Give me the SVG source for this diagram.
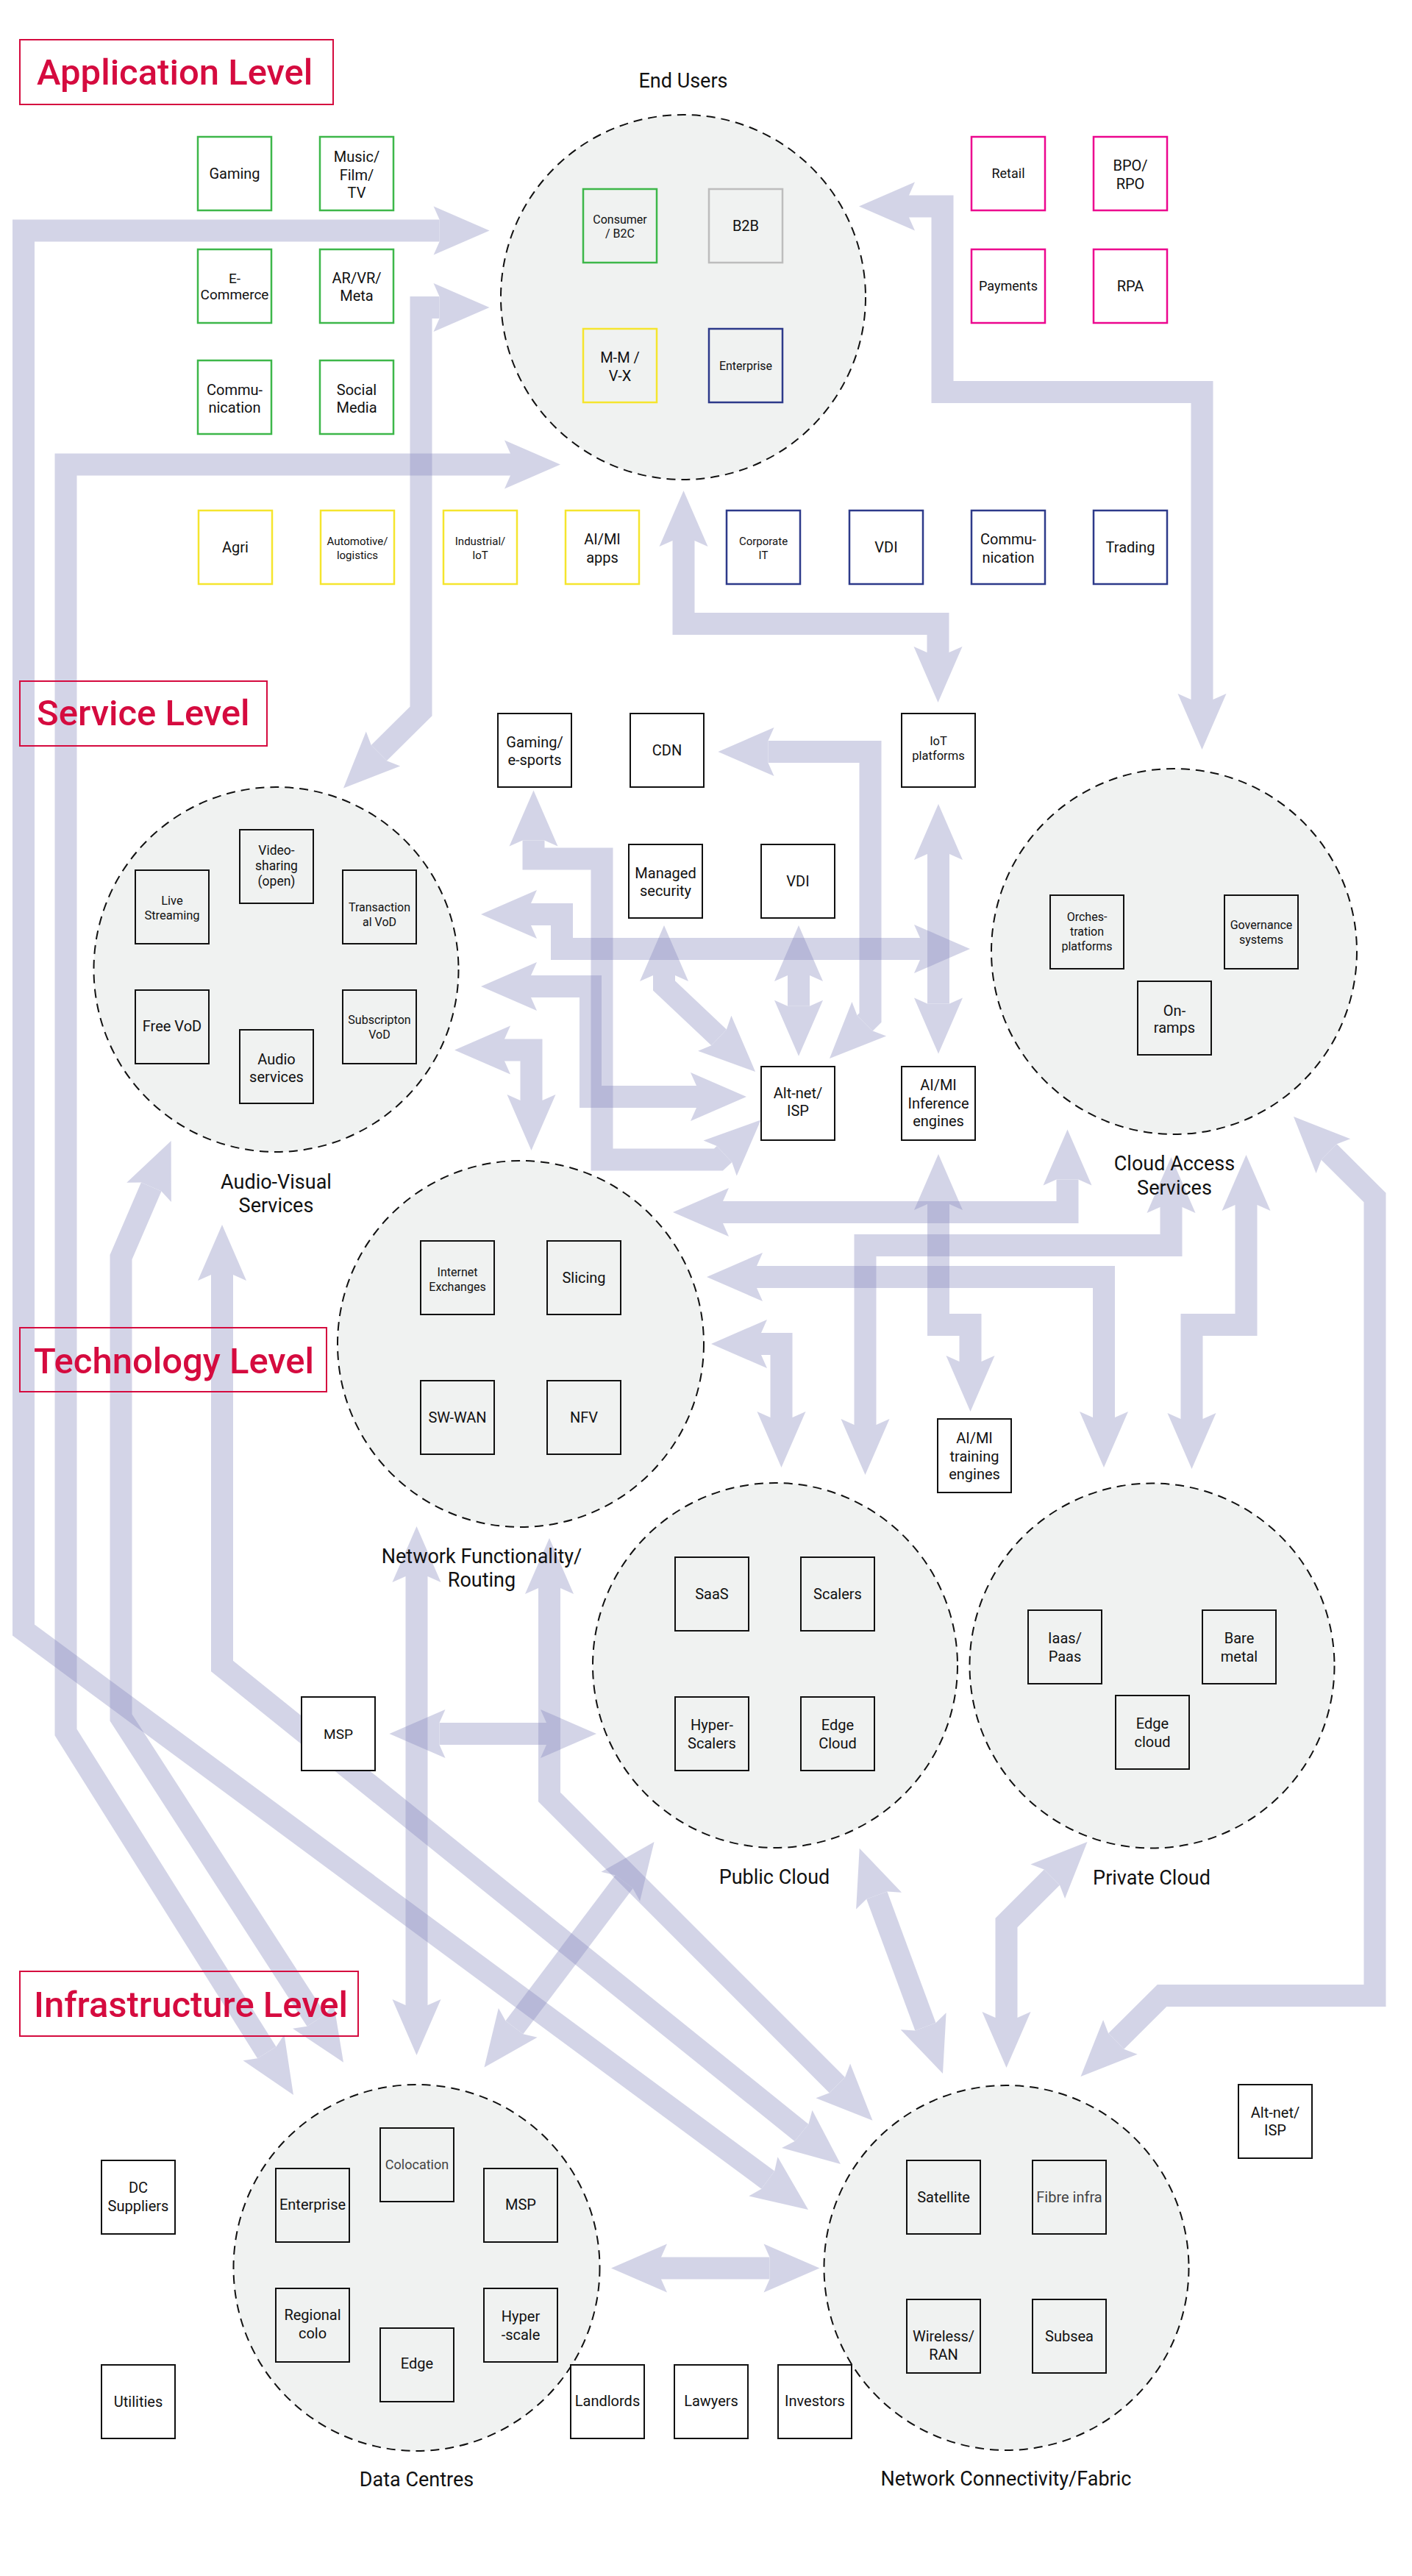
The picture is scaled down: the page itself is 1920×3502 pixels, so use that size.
<svg xmlns="http://www.w3.org/2000/svg" width="1920" height="3502" viewBox="0 0 1920 3502">
<style>
text{font-family:Roboto,"Liberation Sans",sans-serif;fill:#111;text-anchor:middle}
.lvl rect{fill:none;stroke:#D50B3F;stroke-width:2}
.lvl text{fill:#D50B3F;font-size:49px;font-weight:500;text-anchor:start}
.cir{fill:#F0F2F1;stroke:#111;stroke-width:2;stroke-dasharray:12 8}
.b{fill:#fff;stroke:#111;stroke-width:2}
.bi{fill:#F0F2F1;stroke:#111;stroke-width:2}
.g{fill:#fff;stroke:#3DB74A;stroke-width:2.5}
.gi{fill:#F0F2F1;stroke:#3DB74A;stroke-width:2.5}
.y{fill:#fff;stroke:#F5E52E;stroke-width:2.5}
.yi{fill:#F0F2F1;stroke:#F5E52E;stroke-width:2.5}
.n{fill:#fff;stroke:#2D3A8A;stroke-width:2.5}
.ni{fill:#F0F2F1;stroke:#2D3A8A;stroke-width:2.5}
.p{fill:#fff;stroke:#EC058E;stroke-width:2.5}
.gr{fill:#F0F2F1;stroke:#BDBDBD;stroke-width:2.5}
.f20{font-size:20px}
.f18{font-size:18px}
.f16{font-size:16px}
.f15{font-size:15px}
.lab{font-size:27px}
.cn g{opacity:.35}
.cn polyline{fill:none;stroke:#8487BD;stroke-width:30;stroke-linejoin:miter;marker-start:url(#ah);marker-end:url(#ah)}
</style>
<defs>
<marker id="ah" markerUnits="userSpaceOnUse" markerWidth="80" markerHeight="70" refX="8" refY="0" orient="auto-start-reverse" overflow="visible"><path d="M0,-33 L76,0 L0,33 L8,15 L8,-15 Z" fill="#8487BD"/></marker>
</defs>
<rect width="1920" height="3502" fill="#fff"/>

<g id="connectors" class="cn">
<g id="c-e1"><polyline points="597.6,313.5 32,313.5 32,2216 1044.3,2963.6"/></g>
<g id="c-e2"><polyline points="597.5,418 572.5,418 572.5,967 515.3,1023.6"/></g>
<g id="c-e3"><polyline points="694,631.5 89.5,631.5 89.5,2355 362.8,2790.4"/></g>
<g id="c-e4"><polyline points="1236,280.5 1281.5,280.5 1281.5,533 1634.5,533 1634.5,951"/></g>
<g id="c-e5"><polyline points="929.5,735 929.5,848 1275.5,848 1275.5,887"/></g>
<g id="c-b"><polyline points="205.7,1613.5 164.5,1709 164.5,2335 430.1,2746.5"/></g>
<g id="c-d"><polyline points="302,1733 302,2265 1090,2899.4"/></g>
<g id="c-s1"><polyline points="1044.5,1022 1183.5,1022 1183.5,1383.5 1176.1,1390.9"/></g>
<g id="c-s2"><polyline points="1276,1161 1276,1364.6"/></g>
<g id="c-s3"><polyline points="1086,1326 1086,1367.7"/></g>
<g id="c-s4"><polyline points="903,1326 903,1340 977.6,1410.3"/></g>
<g id="c-p1"><polyline points="725.5,1142.5 725.5,1167.5 818.5,1167.5 818.5,1576.5 977,1576.5 985,1569"/></g>
<g id="c-p2"><polyline points="722,1243 764,1243 764,1290 1251,1290"/></g>
<g id="c-p3"><polyline points="722,1341 803,1341 803,1491 947,1491"/></g>
<g id="c-p4"><polyline points="686,1427.5 722.5,1427.5 722.5,1496"/></g>
<g id="c-q1"><polyline points="983,1648 1451.5,1648 1451.5,1603.5"/></g>
<g id="c-q2"><polyline points="1592.5,1641 1592.5,1693 1176.5,1693 1176.5,1937"/></g>
<g id="c-q3"><polyline points="1694.5,1638 1694.5,1801 1620.5,1801 1620.5,1929"/></g>
<g id="c-q4"><polyline points="1807.2,1566 1869.5,1628 1869.5,2713 1580,2713 1517.7,2775"/></g>
<g id="c-q5"><polyline points="1029,1736 1501,1736 1501,1927"/></g>
<g id="c-q6"><polyline points="1035,1827 1062.5,1827 1062.5,1927"/></g>
<g id="c-q7"><polyline points="1276,1637 1276,1801 1319.5,1801 1319.5,1851"/></g>
<g id="c-r1"><polyline points="566.5,2143 566.5,2726"/></g>
<g id="c-r2"><polyline points="747,2159 747,2443 1138.4,2834.6"/></g>
<g id="c-r3"><polyline points="597.5,2357 743,2357"/></g>
<g id="c-r4"><polyline points="848.6,2558.3 699.4,2756.3"/></g>
<g id="c-r5"><polyline points="1192.3,2576.6 1258.4,2755.2"/></g>
<g id="c-r6"><polyline points="1430.4,2552.1 1368.5,2614 1368.5,2743"/></g>
<g id="c-r7"><polyline points="899,3083.5 1046.5,3083.5"/></g>
</g>

<g id="level-labels" class="lvl">
<g id="lvl-app"><rect x="27" y="54" width="426" height="88"/><text x="50" y="115">Application Level</text></g>
<g id="lvl-svc"><rect x="27" y="926" width="336" height="88"/><text x="50" y="986">Service Level</text></g>
<g id="lvl-tech"><rect x="27" y="1805" width="417" height="87"/><text x="46" y="1867">Technology Level</text></g>
<g id="lvl-infra"><rect x="27" y="2680" width="460" height="88"/><text x="46" y="2742">Infrastructure Level</text></g>
</g>

<!-- Application level -->
<g id="app-gaming"><rect class="g" x="269" y="186" width="100" height="100"/><text class="f20" x="319" y="243">Gaming</text></g>
<g id="app-music"><rect class="g" x="435" y="186" width="100" height="100"/><text class="f20" x="485" y="220"><tspan x="485">Music/</tspan><tspan x="485" dy="24.5">Film/</tspan><tspan x="485" dy="24.5">TV</tspan></text></g>
<g id="app-ecommerce"><rect class="g" x="269" y="339" width="100" height="100"/><text style="font-size:19px" x="319" y="384.5"><tspan x="319">E-</tspan><tspan x="319" dy="22.5">Commerce</tspan></text></g>
<g id="app-arvr"><rect class="g" x="435" y="339" width="100" height="100"/><text class="f20" x="485" y="384.5"><tspan x="485">AR/VR/</tspan><tspan x="485" dy="24.5">Meta</tspan></text></g>
<g id="app-comm"><rect class="g" x="269" y="490" width="100" height="100"/><text class="f20" x="319" y="537"><tspan x="319">Commu-</tspan><tspan x="319" dy="23.5">nication</tspan></text></g>
<g id="app-social"><rect class="g" x="435" y="490" width="100" height="100"/><text class="f20" x="485" y="537"><tspan x="485">Social</tspan><tspan x="485" dy="23.5">Media</tspan></text></g>
<g id="app-agri"><rect class="y" x="270" y="694" width="100" height="100"/><text class="f20" x="320" y="751">Agri</text></g>
<g id="app-auto"><rect class="y" x="436" y="694" width="100" height="100"/><text class="f15" x="486" y="741"><tspan x="486">Automotive/</tspan><tspan x="486" dy="19">logistics</tspan></text></g>
<g id="app-industrial"><rect class="y" x="603" y="694" width="100" height="100"/><text class="f15" x="653" y="741"><tspan x="653">Industrial/</tspan><tspan x="653" dy="19">IoT</tspan></text></g>
<g id="app-aiml"><rect class="y" x="769" y="694" width="100" height="100"/><text class="f20" x="819" y="740"><tspan x="819">AI/MI</tspan><tspan x="819" dy="24.5">apps</tspan></text></g>
<g id="app-corpit"><rect class="n" x="988" y="694" width="100" height="100"/><text class="f15" x="1038" y="741"><tspan x="1038">Corporate</tspan><tspan x="1038" dy="19">IT</tspan></text></g>
<g id="app-vdi"><rect class="n" x="1155" y="694" width="100" height="100"/><text class="f20" x="1205" y="751">VDI</text></g>
<g id="app-comm2"><rect class="n" x="1321" y="694" width="100" height="100"/><text class="f20" x="1371" y="740"><tspan x="1371">Commu-</tspan><tspan x="1371" dy="24.5">nication</tspan></text></g>
<g id="app-trading"><rect class="n" x="1487" y="694" width="100" height="100"/><text class="f20" x="1537" y="751">Trading</text></g>
<g id="app-retail"><rect class="p" x="1321" y="186" width="100" height="100"/><text class="f18" x="1371" y="242">Retail</text></g>
<g id="app-bpo"><rect class="p" x="1487" y="186" width="100" height="100"/><text class="f20" x="1537" y="232"><tspan x="1537">BPO/</tspan><tspan x="1537" dy="24.5">RPO</tspan></text></g>
<g id="app-payments"><rect class="p" x="1321" y="339" width="100" height="100"/><text class="f18" x="1371" y="395">Payments</text></g>
<g id="app-rpa"><rect class="p" x="1487" y="339" width="100" height="100"/><text class="f20" x="1537" y="396">RPA</text></g>

<g id="end-users">
<circle class="cir" cx="929" cy="404" r="248"/>
<text class="lab" x="929" y="119">End Users</text>
<rect class="gi" x="793" y="257" width="100" height="100"/><text class="f16" x="843" y="303.5"><tspan x="843">Consumer</tspan><tspan x="843" dy="19.5">/ B2C</tspan></text>
<rect class="gr" x="964" y="257" width="100" height="100"/><text class="f20" x="1014" y="314">B2B</text>
<rect class="yi" x="793" y="447" width="100" height="100"/><text class="f20" x="843" y="493"><tspan x="843">M-M /</tspan><tspan x="843" dy="24.5">V-X</tspan></text>
<rect class="ni" x="964" y="447" width="100" height="100"/><text class="f16" x="1014" y="503">Enterprise</text>
</g>

<!-- Service level -->
<g id="av-services">
<circle class="cir" cx="375.5" cy="1318" r="248"/>
<text class="lab" x="375.5" y="1616"><tspan x="375.5">Audio-Visual</tspan><tspan x="375.5" dy="32">Services</tspan></text>
<rect class="bi" x="184" y="1183" width="100" height="100"/><text style="font-size:16.5px" x="234" y="1230"><tspan x="234">Live</tspan><tspan x="234" dy="20">Streaming</tspan></text>
<rect class="bi" x="326" y="1128" width="100" height="100"/><text style="font-size:17.5px" x="376" y="1161.5"><tspan x="376">Video-</tspan><tspan x="376" dy="21.2">sharing</tspan><tspan x="376" dy="21.2">(open)</tspan></text>
<rect class="bi" x="466" y="1183" width="100" height="100"/><text class="f16" x="516" y="1238.5"><tspan x="516">Transaction</tspan><tspan x="516" dy="20">al VoD</tspan></text>
<rect class="bi" x="184" y="1346" width="100" height="100"/><text class="f20" x="234" y="1402">Free VoD</text>
<rect class="bi" x="326" y="1400" width="100" height="100"/><text class="f20" x="376" y="1447"><tspan x="376">Audio</tspan><tspan x="376" dy="24">services</tspan></text>
<rect class="bi" x="466" y="1346" width="100" height="100"/><text class="f16" x="516" y="1392"><tspan x="516">Subscripton</tspan><tspan x="516" dy="20">VoD</tspan></text>
</g>

<g id="svc-gaming"><rect class="b" x="677" y="970" width="100" height="100"/><text class="f20" x="727" y="1016"><tspan x="727">Gaming/</tspan><tspan x="727" dy="24">e-sports</tspan></text></g>
<g id="svc-cdn"><rect class="b" x="857" y="970" width="100" height="100"/><text class="f20" x="907" y="1027">CDN</text></g>
<g id="svc-managed"><rect class="b" x="855" y="1148" width="100" height="100"/><text class="f20" x="905" y="1194"><tspan x="905">Managed</tspan><tspan x="905" dy="24">security</tspan></text></g>
<g id="svc-iot"><rect class="b" x="1226" y="970" width="100" height="100"/><text style="font-size:16.5px" x="1276" y="1013"><tspan x="1276">IoT</tspan><tspan x="1276" dy="19.5">platforms</tspan></text></g>
<g id="svc-vdi"><rect class="b" x="1035" y="1148" width="100" height="100"/><text class="f20" x="1085" y="1205">VDI</text></g>
<g id="svc-altnet"><rect class="b" x="1035" y="1450" width="100" height="100"/><text class="f20" x="1085" y="1493"><tspan x="1085">Alt-net/</tspan><tspan x="1085" dy="24">ISP</tspan></text></g>
<g id="svc-aiinf"><rect class="b" x="1226" y="1450" width="100" height="100"/><text class="f20" x="1276" y="1482"><tspan x="1276">AI/MI</tspan><tspan x="1276" dy="24.5">Inference</tspan><tspan x="1276" dy="24.5">engines</tspan></text></g>

<g id="cloud-access">
<circle class="cir" cx="1596.5" cy="1293.5" r="248.5"/>
<text class="lab" x="1597" y="1591"><tspan x="1597">Cloud Access</tspan><tspan x="1597" dy="33">Services</tspan></text>
<rect class="bi" x="1428" y="1217" width="100" height="100"/><text class="f16" x="1478" y="1252"><tspan x="1478">Orches-</tspan><tspan x="1478" dy="20">tration</tspan><tspan x="1478" dy="20">platforms</tspan></text>
<rect class="bi" x="1665" y="1217" width="100" height="100"/><text class="f16" x="1715" y="1262.5"><tspan x="1715">Governance</tspan><tspan x="1715" dy="20">systems</tspan></text>
<rect class="bi" x="1547" y="1334" width="100" height="100"/><text class="f20" x="1597" y="1380.5"><tspan x="1597">On-</tspan><tspan x="1597" dy="23">ramps</tspan></text>
</g>

<!-- Technology level -->
<g id="network-functionality">
<circle class="cir" cx="708" cy="1827" r="249"/>
<text class="lab" x="655" y="2124.5"><tspan x="655">Network Functionality/</tspan><tspan x="655" dy="32.5">Routing</tspan></text>
<rect class="bi" x="572" y="1687" width="100" height="100"/><text class="f16" x="622" y="1735"><tspan x="622">Internet</tspan><tspan x="622" dy="19.5">Exchanges</tspan></text>
<rect class="bi" x="744" y="1687" width="100" height="100"/><text class="f20" x="794" y="1744">Slicing</text>
<rect class="bi" x="572" y="1877" width="100" height="100"/><text class="f20" x="622" y="1934">SW-WAN</text>
<rect class="bi" x="744" y="1877" width="100" height="100"/><text class="f20" x="794" y="1934">NFV</text>
</g>

<g id="tech-msp"><rect class="b" x="410" y="2307" width="100" height="100"/><text style="font-size:19px" x="460" y="2364">MSP</text></g>
<g id="tech-aitrain"><rect class="b" x="1275" y="1929" width="100" height="100"/><text class="f20" x="1325" y="1962"><tspan x="1325">AI/MI</tspan><tspan x="1325" dy="24.5">training</tspan><tspan x="1325" dy="24.5">engines</tspan></text></g>

<g id="public-cloud">
<circle class="cir" cx="1054" cy="2264" r="248"/>
<text class="lab" x="1053" y="2561">Public Cloud</text>
<rect class="bi" x="918" y="2117" width="100" height="100"/><text class="f20" x="968" y="2174">SaaS</text>
<rect class="bi" x="1089" y="2117" width="100" height="100"/><text class="f20" x="1139" y="2174">Scalers</text>
<rect class="bi" x="918" y="2307" width="100" height="100"/><text class="f20" x="968" y="2352"><tspan x="968">Hyper-</tspan><tspan x="968" dy="24.5">Scalers</tspan></text>
<rect class="bi" x="1089" y="2307" width="100" height="100"/><text class="f20" x="1139" y="2352"><tspan x="1139">Edge</tspan><tspan x="1139" dy="24.5">Cloud</tspan></text>
</g>

<g id="private-cloud">
<circle class="cir" cx="1566.5" cy="2264.5" r="248"/>
<text class="lab" x="1566" y="2562">Private Cloud</text>
<rect class="bi" x="1398" y="2189" width="100" height="100"/><text class="f20" x="1448" y="2234"><tspan x="1448">Iaas/</tspan><tspan x="1448" dy="24.5">Paas</tspan></text>
<rect class="bi" x="1635" y="2189" width="100" height="100"/><text class="f20" x="1685" y="2234"><tspan x="1685">Bare</tspan><tspan x="1685" dy="24.5">metal</tspan></text>
<rect class="bi" x="1517" y="2305" width="100" height="100"/><text class="f20" x="1567" y="2350"><tspan x="1567">Edge</tspan><tspan x="1567" dy="24.5">cloud</tspan></text>
</g>

<!-- Infrastructure level -->
<g id="data-centres">
<circle class="cir" cx="566.5" cy="3083" r="249"/>
<text class="lab" x="566.5" y="3380">Data Centres</text>
<rect class="bi" x="517" y="2893" width="100" height="100"/><text class="f18" style="fill:#444" x="567" y="2949">Colocation</text>
<rect class="bi" x="375" y="2948" width="100" height="100"/><text class="f20" x="425" y="3004">Enterprise</text>
<rect class="bi" x="658" y="2948" width="100" height="100"/><text class="f20" x="708" y="3004">MSP</text>
<rect class="bi" x="375" y="3111" width="100" height="100"/><text class="f20" x="425" y="3154"><tspan x="425">Regional</tspan><tspan x="425" dy="24.5">colo</tspan></text>
<rect class="bi" x="517" y="3165" width="100" height="100"/><text class="f20" x="567" y="3220">Edge</text>
<rect class="bi" x="658" y="3111" width="100" height="100"/><text class="f20" x="708" y="3156"><tspan x="708">Hyper</tspan><tspan x="708" dy="24.5">-scale</tspan></text>
</g>

<g id="network-connectivity">
<circle class="cir" cx="1368.5" cy="3083" r="248"/>
<text class="lab" x="1368" y="3379">Network Connectivity/Fabric</text>
<rect class="bi" x="1233" y="2937" width="100" height="100"/><text class="f20" x="1283" y="2994">Satellite</text>
<rect class="bi" x="1404" y="2937" width="100" height="100"/><text class="f20" style="fill:#444" x="1454" y="2994">Fibre infra</text>
<rect class="bi" x="1233" y="3126" width="100" height="100"/><text class="f20" x="1283" y="3183"><tspan x="1283">Wireless/</tspan><tspan x="1283" dy="24.5">RAN</tspan></text>
<rect class="bi" x="1404" y="3126" width="100" height="100"/><text class="f20" x="1454" y="3183">Subsea</text>
</g>

<g id="infra-dcsuppliers"><rect class="b" x="138" y="2937" width="100" height="100"/><text class="f20" x="188" y="2981"><tspan x="188">DC</tspan><tspan x="188" dy="24.5">Suppliers</tspan></text></g>
<g id="infra-utilities"><rect class="b" x="138" y="3215" width="100" height="100"/><text class="f20" x="188" y="3272">Utilities</text></g>
<g id="infra-landlords"><rect class="b" x="776" y="3215" width="100" height="100"/><text class="f20" x="826" y="3271">Landlords</text></g>
<g id="infra-lawyers"><rect class="b" x="917" y="3215" width="100" height="100"/><text class="f20" x="967" y="3271">Lawyers</text></g>
<g id="infra-investors"><rect class="b" x="1058" y="3215" width="100" height="100"/><text class="f20" x="1108" y="3271">Investors</text></g>
<g id="infra-altnet"><rect class="b" x="1684" y="2834" width="100" height="100"/><text class="f20" x="1734" y="2878.5"><tspan x="1734">Alt-net/</tspan><tspan x="1734" dy="24.5">ISP</tspan></text></g>
</svg>
